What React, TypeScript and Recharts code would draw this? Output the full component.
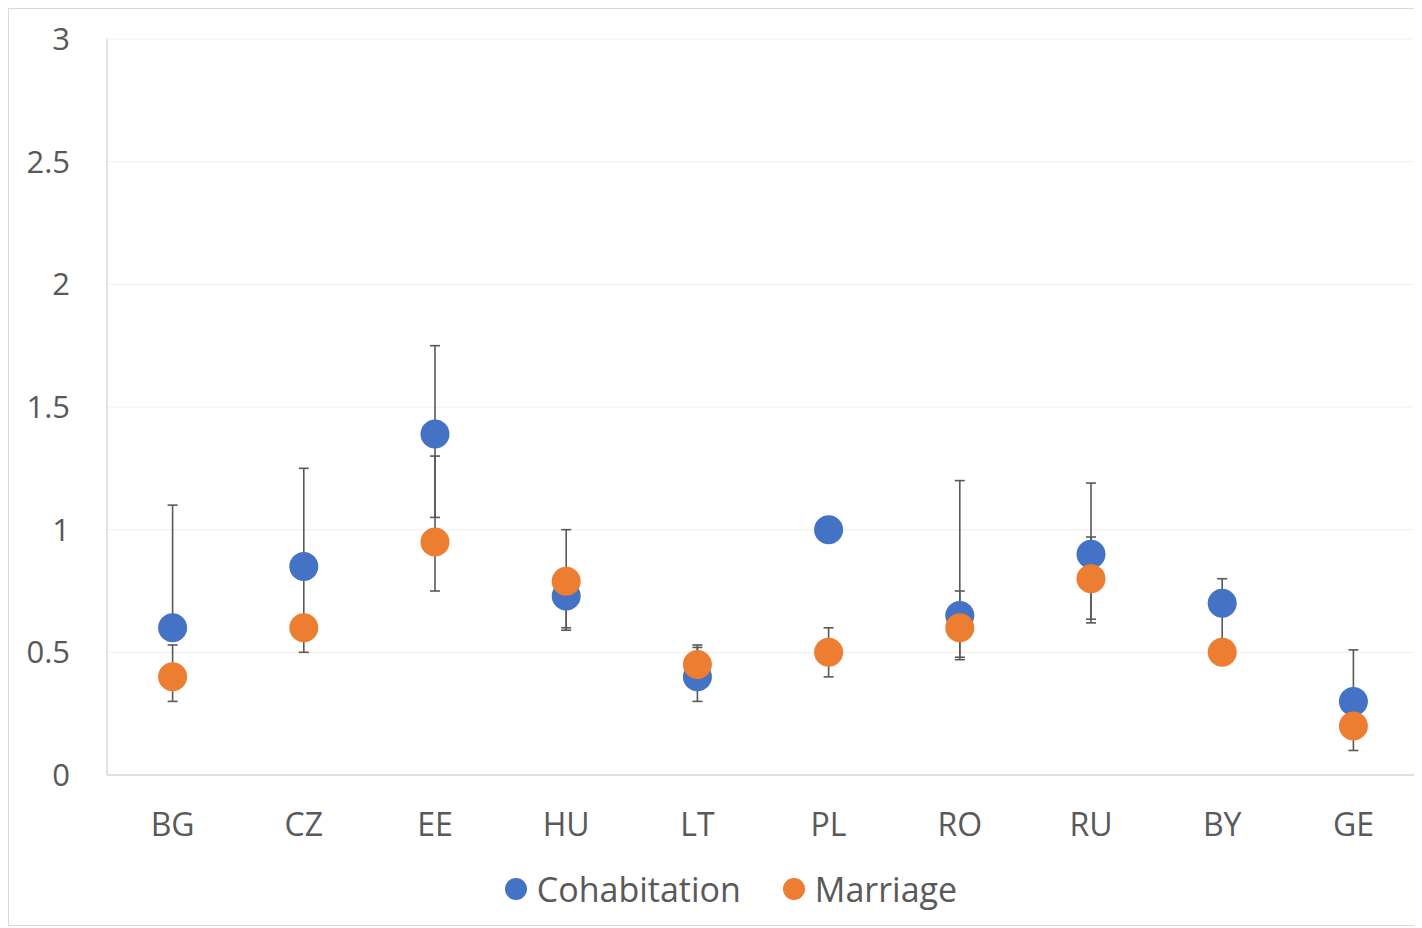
import React from 'react';
import { ComposedChart, Line, XAxis, YAxis, CartesianGrid, ErrorBar, Legend } from 'recharts';

// Country codes along the x axis
const countries = ['BG', 'CZ', 'EE', 'HU', 'LT', 'PL', 'RO', 'RU', 'BY', 'GE'];

// Point estimates
const cohabitation = [0.6, 0.85, 1.39, 0.73, 0.4, 1.0, 0.65, 0.9, 0.7, 0.3];
const marriage = [0.4, 0.6, 0.95, 0.79, 0.45, 0.5, 0.6, 0.8, 0.5, 0.2];

// Interval bounds
const cohabitationLow = [0.56, 0.62, 1.05, 0.6, 0.3, 1.0, 0.48, 0.635, 0.5, 0.25];
const cohabitationHigh = [1.1, 1.25, 1.75, 0.82, 0.52, 1.0, 1.2, 1.19, 0.8, 0.51];
const marriageLow = [0.3, 0.5, 0.75, 0.59, 0.42, 0.4, 0.47, 0.62, 0.47, 0.1];
const marriageHigh = [0.53, 0.65, 1.3, 1.0, 0.53, 0.6, 0.75, 0.97, 0.53, 0.25];

const yTicks = [0, 0.5, 1, 1.5, 2, 2.5, 3];

const BLUE = '#4472C4';
const ORANGE = '#ED7D31';
const TEXT = '#595959';
const FONT = '"Open Sans", "Noto Sans", sans-serif';

const seriesColors: Record<string, string> = {
  Cohabitation: BLUE,
  Marriage: ORANGE,
};

const data = countries.map((c, i) => ({
  country: c,
  cohabitation: cohabitation[i],
  marriage: marriage[i],
  cohabitationErr: [cohabitation[i] - cohabitationLow[i], cohabitationHigh[i] - cohabitation[i]],
  marriageErr: [marriage[i] - marriageLow[i], marriageHigh[i] - marriage[i]],
}));

const renderLegend = (props: any) => {
  const items = (props.payload || []).filter((p: any) => p.type !== 'none');
  return (
    <div
      style={{
        display: 'flex',
        justifyContent: 'center',
        alignItems: 'center',
        height: 40,
        fontFamily: FONT,
        fontSize: 34,
        color: TEXT,
        paddingLeft: 34,
      }}
    >
      {items.map((it: any, idx: number) => (
        <div
          key={it.value}
          style={{ display: 'flex', alignItems: 'center', marginLeft: idx === 0 ? 0 : 42 }}
        >
          <span
            style={{
              display: 'inline-block',
              width: 22,
              height: 22,
              borderRadius: '50%',
              background: seriesColors[it.value],
              marginRight: 10,
            }}
          />
          <span>{it.value}</span>
        </div>
      ))}
    </div>
  );
};

export default function App() {
  return (
    <div
      style={{
        width: 1410,
        height: 916,
        border: '1px solid #d9d9d9',
        background: '#fff',
      }}
    >
      <ComposedChart
        width={1410}
        height={916}
        data={data}
        margin={{ top: 30, right: 0, bottom: 16, left: 0 }}
      >
        <CartesianGrid vertical={false} stroke="#efefef" strokeWidth={1} />
        <XAxis
          dataKey="country"
          scale="band"
          height={94}
          tickLine={false}
          tickSize={0}
          tickMargin={38}
          axisLine={{ stroke: '#d9d9d9', strokeWidth: 1.5 }}
          tick={{ fill: TEXT, fontSize: 32, fontFamily: FONT }}
          interval={0}
        />
        <YAxis
          domain={[0, 3]}
          ticks={yTicks}
          width={98}
          tickLine={false}
          tickSize={0}
          tickMargin={37}
          axisLine={{ stroke: '#d9d9d9', strokeWidth: 1.5 }}
          tick={{ fill: TEXT, fontSize: 31, fontFamily: FONT }}
        />
        <Legend verticalAlign="bottom" content={renderLegend} />

        {/* Interval whiskers sit underneath every marker */}
        <Line
          dataKey="cohabitation"
          name="cohabitation-interval"
          legendType="none"
          stroke="none"
          dot={false}
          activeDot={false}
          isAnimationActive={false}
        >
          <ErrorBar dataKey="cohabitationErr" direction="y" width={5} stroke="#595959" strokeWidth={1.6} />
        </Line>
        <Line
          dataKey="marriage"
          name="marriage-interval"
          legendType="none"
          stroke="none"
          dot={false}
          activeDot={false}
          isAnimationActive={false}
        >
          <ErrorBar dataKey="marriageErr" direction="y" width={5} stroke="#595959" strokeWidth={1.6} />
        </Line>

        <Line
          dataKey="cohabitation"
          name="Cohabitation"
          stroke="none"
          legendType="circle"
          dot={{ r: 14.5, fill: BLUE, stroke: 'none' }}
          activeDot={false}
          isAnimationActive={false}
        />
        <Line
          dataKey="marriage"
          name="Marriage"
          stroke="none"
          legendType="circle"
          dot={{ r: 14.5, fill: ORANGE, stroke: 'none' }}
          activeDot={false}
          isAnimationActive={false}
        />
      </ComposedChart>
    </div>
  );
}
